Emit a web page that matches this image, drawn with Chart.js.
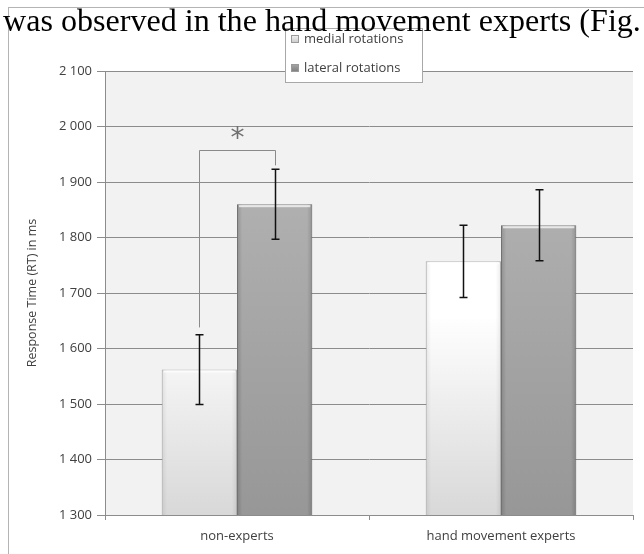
<!DOCTYPE html>
<html>
<head>
<meta charset="utf-8">
<script src="https://cdn.jsdelivr.net/npm/chart.js@4.4.1/dist/chart.umd.min.js"></script>
<style>
  html, body { margin: 0; padding: 0; background: #fff; }
  #wrap { position: relative; width: 644px; height: 554px; overflow: hidden; }
  #para {
    position: absolute; left: 3px; top: 4px; white-space: nowrap;
    font-family: 'Liberation Serif', 'Times New Roman', serif; color: #000;
    line-height: 1; z-index: 2;
  }
  canvas { position: absolute; left: 0; top: 0; }
</style>
</head>
<body>
<div id="wrap">
  <div id="para">was observed in the hand movement experts (Fig.</div>
  <canvas id="rtChart" width="644" height="554"></canvas>
</div>
<script>
// Данные: время реакции (мс), планки погрешностей
const groups = ['non-experts', 'hand movement experts'];
const seriesNames = ['medial rotations', 'lateral rotations'];
const medialRT = [1562, 1757];
const lateralRT = [1860, 1822];
const medialErr = [63, 65];
const lateralErr = [63, 64];
const yTickLabels = ['1 300', '1 400', '1 500', '1 600', '1 700', '1 800', '1 900', '2 000', '2 100'];
// значимость: левый конец, верх скобки, правый конец, позиция звёздочки
const sigBracket = [1638, 1958, 1930];
const sigStarAt = 1985;

const textColor = '#404040';
const gridColor = '#8c8c8c';

// подгоняем строку текста над графиком по ширине
(function fitPara() {
    const el = document.getElementById('para');
    const c = document.createElement('canvas').getContext('2d');
    c.font = "30px 'Liberation Serif'";
    const w = c.measureText(el.textContent).width;
    el.style.fontSize = (30 * 638 / w).toFixed(2) + 'px';
})();

function vGrad(chart, stops) {
    const area = chart.chartArea;
    if (!area) return stops[0][1];
    const g = chart.ctx.createLinearGradient(0, area.top, 0, area.bottom);
    stops.forEach(s => g.addColorStop(s[0], s[1]));
    return g;
}

// фон, рамка и заливка области графика
const backdrop = {
    id: 'backdrop',
    beforeDraw(chart) {
        const { ctx, chartArea: a } = chart;
        ctx.save();
        ctx.fillStyle = '#fff';
        ctx.fillRect(0, 0, chart.width, chart.height);
        ctx.strokeStyle = '#b4b4b4';
        ctx.lineWidth = 1;
        ctx.strokeRect(8.5, 7.5, chart.width + 10, chart.height + 10);
        ctx.fillStyle = '#f2f2f2';
        ctx.fillRect(a.left, a.top, a.right - a.left, a.bottom - a.top);
        ctx.restore();
    }
};

// затенение краёв столбцов
const barShade = {
    id: 'barShade',
    afterDatasetsDraw(chart) {
        const ctx = chart.ctx;
        const edge = [0.08, 0.16];
        chart.data.datasets.forEach((ds, i) => {
            chart.getDatasetMeta(i).data.forEach(bar => {
                const left = bar.x - bar.width / 2;
                const h = Math.min(bar.base, chart.chartArea.bottom) - bar.y;
                const g = ctx.createLinearGradient(left, 0, left + bar.width, 0);
                g.addColorStop(0, 'rgba(0,0,0,' + edge[i] + ')');
                g.addColorStop(0.07, 'rgba(0,0,0,0)');
                g.addColorStop(0.93, 'rgba(0,0,0,0)');
                g.addColorStop(1, 'rgba(0,0,0,' + edge[i] + ')');
                ctx.save();
                ctx.fillStyle = g;
                ctx.fillRect(left, bar.y, bar.width, h);
                ctx.fillStyle = 'rgba(255,255,255,0.7)';
                ctx.fillRect(left + 2, bar.y + 1, bar.width - 4, 2);
                ctx.restore();
            });
        });
    }
};

// планки погрешностей и скобка значимости
const errorBars = {
    id: 'errorBars',
    afterDatasetsDraw(chart) {
        const ctx = chart.ctx;
        const y = chart.scales.y;
        const errs = [medialErr, lateralErr];
        ctx.save();
        ctx.strokeStyle = '#111';
        ctx.lineWidth = 1.5;
        chart.data.datasets.forEach((ds, i) => {
            chart.getDatasetMeta(i).data.forEach((bar, j) => {
                const v = ds.data[j];
                const hi = y.getPixelForValue(v + errs[i][j]);
                const lo = y.getPixelForValue(v - errs[i][j]);
                const x = Math.round(bar.x) + 0.5;
                ctx.beginPath();
                ctx.moveTo(x, hi); ctx.lineTo(x, lo);
                ctx.moveTo(x - 4, hi); ctx.lineTo(x + 4, hi);
                ctx.moveTo(x - 4, lo); ctx.lineTo(x + 4, lo);
                ctx.stroke();
            });
        });
        // скобка
        const xl = Math.round(chart.getDatasetMeta(0).data[0].x) + 0.5;
        const xr = Math.round(chart.getDatasetMeta(1).data[0].x) + 0.5;
        const yTop = Math.round(y.getPixelForValue(sigBracket[1])) + 0.5;
        ctx.strokeStyle = '#8a8a8a';
        ctx.lineWidth = 1;
        ctx.beginPath();
        ctx.moveTo(xl, y.getPixelForValue(sigBracket[0]));
        ctx.lineTo(xl, yTop);
        ctx.lineTo(xr, yTop);
        ctx.lineTo(xr, y.getPixelForValue(sigBracket[2]));
        ctx.stroke();
        ctx.fillStyle = '#707070';
        ctx.font = "28px 'DejaVu Sans'";
        ctx.textAlign = 'center';
        ctx.textBaseline = 'middle';
        ctx.fillText('*', (xl + xr) / 2, y.getPixelForValue(sigStarAt) + 5);
        ctx.restore();
    }
};

// легенда в рамке сверху
const boxLegend = {
    id: 'boxLegend',
    afterDraw(chart) {
        const ctx = chart.ctx;
        const bx = 285, by = 28, bw = 137, bh = 54;
        ctx.save();
        ctx.fillStyle = '#fff';
        ctx.fillRect(bx, by, bw, bh);
        ctx.strokeStyle = '#a8a8a8';
        ctx.lineWidth = 1;
        ctx.strokeRect(bx + 0.5, by + 0.5, bw, bh);
        const fills = [['#f4f4f4', '#c8c8c8'], ['#a8a8a8', '#7c7c7c']];
        const rows = [39, 68];
        ctx.font = "13px 'Open Sans'";
        ctx.textBaseline = 'middle';
        seriesNames.forEach((name, i) => {
            const g = ctx.createLinearGradient(0, rows[i] - 4, 0, rows[i] + 4);
            g.addColorStop(0, fills[i][0]);
            g.addColorStop(1, fills[i][1]);
            ctx.fillStyle = g;
            ctx.fillRect(291, rows[i] - 4, 8, 8);
            ctx.strokeStyle = '#9a9a9a';
            ctx.strokeRect(291.5, rows[i] - 3.5, 7, 7);
            ctx.fillStyle = textColor;
            ctx.fillText(name, 304, rows[i]);
        });
        ctx.restore();
    }
};

new Chart(document.getElementById('rtChart'), {
    type: 'bar',
    data: {
        labels: groups,
        datasets: [{
            label: seriesNames[0],
            data: medialRT,
            backgroundColor: ctx => vGrad(ctx.chart, [[0, '#ffffff'], [0.55, '#ffffff'], [1, '#d8d8d8']]),
            borderColor: '#bcbcbc',
            borderWidth: 1,
            borderSkipped: 'bottom',
            barPercentage: 1,
            categoryPercentage: 0.57
        }, {
            label: seriesNames[1],
            data: lateralRT,
            backgroundColor: ctx => vGrad(ctx.chart, [[0, '#bababa'], [1, '#979797']]),
            borderColor: '#858585',
            borderWidth: 1,
            borderSkipped: 'bottom',
            barPercentage: 1,
            categoryPercentage: 0.57
        }]
    },
    options: {
        responsive: false,
        animation: false,
        layout: { padding: { top: 71, right: 11, left: 0, bottom: 0 } },
        plugins: {
            legend: { display: false },
            tooltip: { enabled: false }
        },
        scales: {
            y: {
                min: 1300,
                max: 2100,
                ticks: {
                    stepSize: 100,
                    color: textColor,
                    padding: 5,
                    font: { size: 13, family: "'Open Sans'" },
                    callback: (v, i) => yTickLabels[i]
                },
                grid: { color: gridColor, tickLength: 8 },
                border: { color: gridColor },
                title: {
                    display: true,
                    text: 'Response Time (RT) in ms',
                    color: textColor,
                    font: { size: 12.5, family: "'Open Sans'" },
                    padding: { top: 25, bottom: 0 }
                },
                afterFit: s => { s.width = 105; }
            },
            x: {
                ticks: {
                    color: textColor,
                    padding: 8,
                    font: { size: 13, family: "'Open Sans'" }
                },
                grid: { offset: true, drawOnChartArea: false, color: gridColor, tickLength: 5 },
                border: { color: gridColor },
                afterFit: s => { s.height = 39; }
            }
        }
    },
    plugins: [backdrop, barShade, errorBars, boxLegend]
});
</script>
</body>
</html>
